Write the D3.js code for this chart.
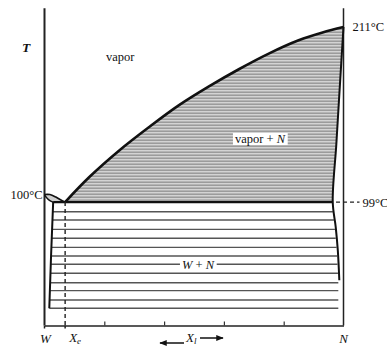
<!DOCTYPE html>
<html>
<head>
<meta charset="utf-8">
<script src="https://cdn.jsdelivr.net/npm/d3@7"></script>
<style>
  body { margin: 0; background: #fff; }
  svg text { font-family: "Liberation Serif", "DejaVu Serif", serif; fill: #111; }
</style>
</head>
<body>
<svg id="chart" width="387" height="348"></svg>
<script>
// Phase diagram data (composition 0 = W, 1 = N; temperature in °C)
var liquidusX = [0.069, 0.15, 0.25, 0.35, 0.45, 0.55, 0.65, 0.75, 0.85, 0.93, 1.0];
var liquidusT = [99, 115, 132, 147, 161, 173, 184, 194, 202.5, 207.5, 211];

// N-rich solid boundary (top down)
var nSolidX = [1.0, 0.988, 0.976, 0.964, 0.974, 0.981, 0.986];
var nSolidT = [211, 174, 136, 99, 83, 68, 49];

// W-rich solid boundary
var wSolidX = [0.029, 0.022, 0.016];
var wSolidT = [99, 65, 31];

// small vapor + W lens near 100°C
var lensUpX = [0, 0.018, 0.038, 0.055, 0.069];
var lensUpT = [103.8, 103.8, 102.2, 100.3, 99];
var lensLoX = [0, 0.008, 0.018, 0.029];
var lensLoT = [103.6, 101.6, 99.9, 99];

var eutecticT = 99;
var eutecticX = 0.069;
var tieT = [92.8, 87.5, 81.5, 75.8, 70, 64.5, 59.2, 53.4, 47.4, 42.3, 36.3, 31];
var tickVals = [0.2, 0.4, 0.6, 0.8];

var svg = d3.select("#chart");
var x = d3.scaleLinear().domain([0, 1]).range([44.5, 343.5]);
var y = d3.scaleLinear().domain([20, 223]).range([325.5, 8.3]);

function zipPts(xs, ts) {
    return xs.map(function(v, i) { return [v, ts[i]]; });
}
// linear lookup of composition at a temperature along a boundary
function compAt(t, xs, ts) {
    var pts = zipPts(xs, ts).sort(function(a, b) { return a[1] - b[1]; });
    if (t <= pts[0][1]) return pts[0][0];
    for (var i = 1; i < pts.length; i++) {
        if (t <= pts[i][1]) {
            var f = (t - pts[i-1][1]) / (pts[i][1] - pts[i-1][1]);
            return pts[i-1][0] + f * (pts[i][0] - pts[i-1][0]);
        }
    }
    return pts[pts.length-1][0];
}

var line = d3.line().x(function(d) { return x(d[0]); }).y(function(d) { return y(d[1]); });
var curved = d3.line().x(function(d) { return x(d[0]); }).y(function(d) { return y(d[1]); })
    .curve(d3.curveCatmullRom);

// striped fill for the vapor + N field
var defs = svg.append("defs");
var pat = defs.append("pattern").attr("id", "stripes")
    .attr("patternUnits", "userSpaceOnUse").attr("width", 8).attr("height", 3);
pat.append("rect").attr("width", 8).attr("height", 3).attr("fill", "#d3d3d3");
pat.append("rect").attr("y", 1.5).attr("width", 8).attr("height", 1.4).attr("fill", "#959595");

var upperNSolid = zipPts(nSolidX, nSolidT).filter(function(d) { return d[1] >= eutecticT; });
svg.append("path")
    .attr("d", curved(zipPts(liquidusX, liquidusT)) + "L" + upperNSolid.slice(1).map(function(d) {
        return x(d[0]) + "," + y(d[1]);
    }).join("L") + "Z")
    .attr("fill", "url(#stripes)");

// lens fill
svg.append("path")
    .attr("d", curved(zipPts(lensUpX, lensUpT)) + "L" + zipPts(lensLoX, lensLoT).reverse().map(function(d) {
        return x(d[0]) + "," + y(d[1]);
    }).join("L") + "Z")
    .attr("fill", "#cfcfcf");

// tie lines in W + N field
svg.append("g").selectAll("line")
    .data(tieT)
    .enter().append("line")
    .attr("x1", function(t) { return x(compAt(t, wSolidX, wSolidT)); })
    .attr("x2", function(t) { return x(compAt(t, nSolidX.slice(3), nSolidT.slice(3))) - 1; })
    .attr("y1", function(t) { return y(t); })
    .attr("y2", function(t) { return y(t); })
    .attr("stroke", "#555")
    .attr("stroke-width", 1.4);

// frame: W axis, N axis, bottom axis
svg.append("line").attr("x1", x(0)).attr("x2", x(0)).attr("y1", y(223)).attr("y2", y(20))
    .attr("stroke", "#222").attr("stroke-width", 2);
svg.append("line").attr("x1", x(1)).attr("x2", x(1)).attr("y1", y(223)).attr("y2", y(20))
    .attr("stroke", "#222").attr("stroke-width", 1.5);
var axis = d3.axisBottom(x).tickValues(tickVals).tickSizeInner(-4).tickSizeOuter(0).tickFormat("");
var axG = svg.append("g").attr("transform", "translate(0," + y(20) + ")").call(axis);
axG.select(".domain").attr("stroke", "#222").attr("stroke-width", 1.5);
axG.selectAll(".tick line").attr("stroke", "#333").attr("stroke-width", 1.2);
// little ticks below axis at W and Xe
svg.selectAll(".lowtick").data([0, eutecticX]).enter().append("line")
    .attr("x1", function(d) { return x(d); }).attr("x2", function(d) { return x(d); })
    .attr("y1", y(20)).attr("y2", y(20) + 3).attr("stroke", "#222").attr("stroke-width", 1.5);

// boundaries
svg.append("path").attr("d", curved(zipPts(liquidusX, liquidusT)))
    .attr("fill", "none").attr("stroke", "#111").attr("stroke-width", 2.6);
svg.append("path").attr("d", curved(zipPts(nSolidX, nSolidT)))
    .attr("fill", "none").attr("stroke", "#111").attr("stroke-width", 2);
svg.append("path").attr("d", line(zipPts(wSolidX, wSolidT)))
    .attr("fill", "none").attr("stroke", "#111").attr("stroke-width", 2);
svg.append("path").attr("d", curved(zipPts(lensUpX, lensUpT)))
    .attr("fill", "none").attr("stroke", "#111").attr("stroke-width", 1.6);
svg.append("path").attr("d", curved(zipPts(lensLoX, lensLoT)))
    .attr("fill", "none").attr("stroke", "#111").attr("stroke-width", 1.4);
// eutectic line
svg.append("line").attr("x1", x(wSolidX[0])).attr("x2", x(compAt(eutecticT, nSolidX, nSolidT)))
    .attr("y1", y(eutecticT)).attr("y2", y(eutecticT))
    .attr("stroke", "#111").attr("stroke-width", 2.2);
// Xe dashed line
svg.append("line").attr("x1", x(eutecticX)).attr("x2", x(eutecticX))
    .attr("y1", y(eutecticT)).attr("y2", y(20))
    .attr("stroke", "#222").attr("stroke-width", 1.4).attr("stroke-dasharray", "4,3");
// 99°C dashed marker
svg.append("line").attr("x1", x(0.975)).attr("x2", x(1) + 16)
    .attr("y1", y(eutecticT)).attr("y2", y(eutecticT))
    .attr("stroke", "#222").attr("stroke-width", 1.3).attr("stroke-dasharray", "4,3");

// text labels
function label(txt, px, py, opts) {
    opts = opts || {};
    return svg.append("text").attr("x", px).attr("y", py)
        .attr("font-size", opts.size || 12.5)
        .attr("font-style", opts.italic ? "italic" : null)
        .attr("font-weight", opts.bold ? "bold" : null)
        .attr("text-anchor", opts.anchor || "start")
        .text(txt);
}
label("T", 22, 52, {italic: true, bold: true, size: 13.5});
label("vapor", 106, 61);
label("211°C", x(1) + 9, y(211) + 4);
label("99°C", x(1) + 19, y(eutecticT) + 4.5);
label("100°C", x(0) - 2, y(lensUpT[0]) + 4.5, {anchor: "end"});

// boxed labels
function boxed(parts, cx, cy) {
    var g = svg.append("g");
    var bg = g.append("rect").attr("fill", "#fff");
    var t = g.append("text").attr("x", cx).attr("y", cy).attr("font-size", 12.5).attr("text-anchor", "middle");
    parts.forEach(function(p) {
        t.append("tspan").attr("font-style", p[1] ? "italic" : null).text(p[0]);
    });
    var bb = t.node().getBBox();
    bg.attr("x", bb.x - 2).attr("y", bb.y + 1).attr("width", bb.width + 4).attr("height", bb.height - 2);
}
boxed([["vapor + ", false], ["N", true]], 260, 143);
boxed([["W", true], [" + ", false], ["N", true]], 198, y(tieT[6]) + 4.5);

// bottom labels
label("W", x(0) + 1, 343, {italic: true, anchor: "middle", size: 13});
var xe = svg.append("text").attr("x", x(eutecticX) + 4).attr("y", 342).attr("font-size", 13).attr("font-style", "italic");
xe.append("tspan").text("X");
xe.append("tspan").attr("font-size", 9).attr("dy", 2).text("e");
label("N", x(1), 343, {italic: true, anchor: "middle", size: 13});
var xl = svg.append("text").attr("x", 186).attr("y", 342).attr("font-size", 13).attr("font-style", "italic");
xl.append("tspan").text("X");
xl.append("tspan").attr("font-size", 9).attr("dy", 2).text("l");

defs.append("marker").attr("id", "ah").attr("viewBox", "0 0 10 10").attr("refX", 9).attr("refY", 5)
    .attr("markerWidth", 7).attr("markerHeight", 5).attr("orient", "auto-start-reverse")
    .append("path").attr("d", "M0,1L10,5L0,9Z").attr("fill", "#111");
svg.append("line").attr("x1", 184).attr("x2", 160).attr("y1", 343).attr("y2", 343)
    .attr("stroke", "#111").attr("stroke-width", 1.5).attr("marker-end", "url(#ah)");
svg.append("line").attr("x1", 200).attr("x2", 223).attr("y1", 338).attr("y2", 338)
    .attr("stroke", "#111").attr("stroke-width", 1.5).attr("marker-end", "url(#ah)");
</script>
</body>
</html>
